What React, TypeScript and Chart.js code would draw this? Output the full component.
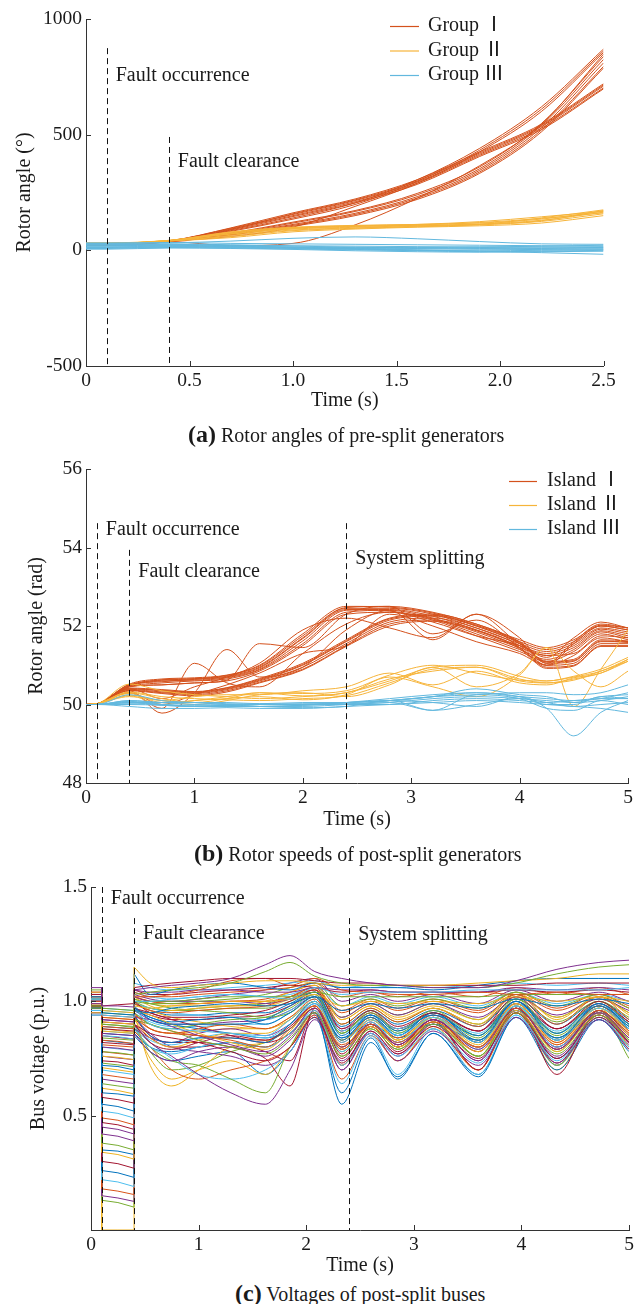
import React, { useEffect, useRef } from "react";
import { Chart, registerables } from "chart.js";
Chart.register(...registerables);

const FONT = '"Liberation Serif", "Noto Sans CJK SC", serif';
const INK = "#1a1a1a";

// ---------- (a) Rotor angles of pre-split generators ----------
const timesA = [0, 0.1, 0.4, 0.7, 1.0, 1.3, 1.6, 1.9, 2.2, 2.5];
const groupI = [
  [28, 28, 40, 95, 155, 215, 295, 415, 535, 710],
  [26, 26, 40, 92, 150, 210, 290, 410, 528, 702],
  [24, 24, 39, 90, 158, 218, 300, 420, 540, 715],
  [30, 30, 41, 97, 162, 222, 305, 425, 545, 720],
  [22, 22, 38, 88, 146, 205, 285, 405, 522, 698],
  [25, 25, 39, 70, 112, 160, 232, 345, 530, 810],
  [27, 27, 40, 72, 118, 168, 240, 352, 540, 825],
  [23, 23, 38, 68, 108, 155, 226, 338, 520, 795],
  [29, 29, 41, 75, 122, 172, 246, 360, 548, 838],
  [21, 21, 37, 66, 104, 150, 220, 332, 512, 788],
  [26, 26, 40, 85, 140, 205, 305, 440, 620, 870],
  [24, 24, 39, 82, 135, 198, 298, 432, 610, 862],
  [25, 25, 38, 20, 30, 110, 225, 365, 545, 848],
  [27, 27, 40, 60, 100, 190, 290, 425, 600, 855],
];
const groupII = [
  [30, 30, 42, 80, 100, 108, 112, 118, 135, 170],
  [28, 28, 41, 75, 96, 104, 108, 114, 130, 165],
  [32, 32, 43, 70, 92, 100, 106, 112, 128, 172],
  [26, 26, 40, 65, 88, 97, 104, 112, 140, 175],
  [29, 29, 42, 60, 85, 95, 102, 110, 125, 158],
  [31, 31, 43, 78, 98, 106, 112, 124, 145, 168],
  [27, 27, 40, 55, 80, 92, 100, 106, 118, 150],
  [30, 30, 42, 72, 94, 103, 110, 120, 138, 162],
];
const groupIII = [
  [32, 32, 34, 30, 28, 26, 24, 22, 20, 18],
  [30, 30, 32, 40, 52, 58, 50, 38, 28, 26],
  [28, 28, 28, 24, 20, 18, 16, 15, 14, 12],
  [25, 25, 26, 22, 18, 14, 10, 8, 6, 5],
  [22, 22, 24, 20, 14, 8, 2, -4, -10, -17],
  [20, 20, 22, 18, 12, 6, 0, -2, 0, 2],
  [18, 18, 20, 16, 14, 12, 12, 14, 18, 22],
  [15, 15, 18, 16, 12, 8, 6, 6, 8, 10],
  [12, 12, 16, 14, 10, 4, -2, -6, -4, 0],
  [10, 10, 14, 12, 8, 6, 8, 12, 14, 15],
  [8, 8, 12, 10, 6, 2, 0, 2, 4, 6],
  [5, 5, 10, 8, 4, -2, -6, -8, -6, -4],
];
const xTicksA = [0, 0.5, 1.0, 1.5, 2.0, 2.5];
const yTicksA = [-500, 0, 500, 1000];
const legendA = ["Group Ⅰ", "Group Ⅱ", "Group Ⅲ"];
const eventTimesA = [0.1, 0.4];
const eventLabelsA = ["Fault occurrence", "Fault clearance"];

// ---------- (b) Rotor speeds of post-split generators ----------
const timesB = [0, 0.1, 0.4, 0.7, 1.0, 1.3, 1.6, 2.0, 2.4, 2.8, 3.2, 3.6, 4.0, 4.25, 4.5, 4.75, 5.0];
const islandI = [
  [50, 50.02, 50.5, 50.62, 50.65, 50.72, 50.95, 51.7, 52.45, 52.45, 52.3, 51.95, 51.55, 51.35, 51.55, 51.95, 51.85],
  [50, 50.02, 50.47, 50.6, 50.62, 50.68, 50.9, 51.62, 52.4, 52.42, 52.25, 51.9, 51.5, 51.3, 51.5, 51.92, 51.8],
  [50, 50.02, 50.52, 50.65, 50.68, 50.75, 51.0, 51.8, 52.5, 52.48, 52.33, 52.0, 51.6, 51.4, 51.6, 52.0, 51.9],
  [50, 50.02, 50.45, 50.55, 50.6, 50.65, 50.88, 51.55, 52.35, 52.4, 52.2, 51.85, 51.45, 51.25, 51.45, 51.88, 51.75],
  [50, 50.02, 50.5, 50.58, 50.64, 50.7, 50.93, 51.68, 52.42, 52.38, 52.18, 51.8, 51.4, 51.15, 51.4, 51.85, 51.7],
  [50, 50.02, 50.48, 50.63, 50.66, 50.74, 50.98, 51.75, 52.47, 52.5, 52.35, 52.05, 51.65, 51.45, 51.65, 52.02, 51.95],
  [50, 50.02, 50.46, 50.5, 50.55, 50.6, 50.85, 51.5, 52.3, 52.35, 52.15, 51.75, 51.35, 51.1, 51.35, 51.8, 51.65],
  [50, 50.02, 50.4, 50.35, 50.3, 50.4, 50.62, 51.0, 51.6, 52.15, 52.25, 52.0, 51.55, 51.05, 51.1, 51.6, 51.6],
  [50, 50.02, 50.38, 50.32, 50.28, 50.38, 50.6, 50.95, 51.55, 52.1, 52.2, 51.95, 51.5, 51.0, 51.05, 51.55, 51.55],
  [50, 50.02, 50.42, 50.38, 50.33, 50.43, 50.66, 51.05, 51.65, 52.2, 52.3, 52.05, 51.6, 51.1, 51.15, 51.65, 51.62],
  [50, 50.02, 50.36, 50.3, 50.25, 50.35, 50.57, 50.9, 51.5, 52.05, 52.15, 51.9, 51.45, 50.95, 51.0, 51.5, 51.5],
  [50, 50.02, 50.4, 50.36, 50.32, 50.42, 50.64, 51.02, 51.62, 52.18, 52.27, 52.02, 51.58, 51.08, 51.12, 51.62, 51.58],
  [50, 50.02, 50.35, 50.28, 50.22, 50.32, 50.55, 50.88, 51.48, 52.0, 52.12, 51.88, 51.42, 50.92, 50.98, 51.48, 51.48],
  [50, 50.02, 50.35, 49.78, 50.3, 51.4, 50.7, 50.95, 51.9, 52.4, 51.65, 52.3, 51.7, 51.05, 51.6, 52.05, 51.95],
  [50, 50.02, 50.3, 49.9, 51.05, 50.55, 50.45, 51.3, 52.05, 52.35, 52.1, 51.75, 51.5, 51.2, 51.7, 52.1, 51.95],
  [50, 50.02, 50.4, 50.15, 50.45, 50.7, 51.05, 51.9, 52.2, 51.95, 51.7, 52.3, 51.55, 51.25, 51.3, 51.75, 51.7],
  [50, 50.02, 50.45, 50.5, 50.55, 50.62, 51.55, 51.45, 52.3, 52.5, 51.8, 52.15, 51.45, 51.0, 51.55, 52.0, 51.9],
  [50, 50.02, 50.3, 50.0, 50.25, 50.5, 50.8, 51.3, 51.5, 52.3, 52.0, 51.6, 51.3, 51.0, 51.25, 51.7, 51.6],
];
const islandII = [
  [50, 50.02, 50.52, 50.35, 50.25, 50.2, 50.15, 50.2, 50.3, 50.6, 50.95, 51.0, 50.72, 50.6, 50.7, 50.85, 51.15],
  [50, 50.02, 50.32, 50.2, 50.15, 50.12, 50.1, 50.15, 50.22, 50.55, 50.9, 50.95, 50.65, 50.55, 50.65, 50.8, 51.1],
  [50, 50.02, 50.28, 50.05, 50.1, 50.2, 50.3, 50.28, 50.35, 50.75, 51.0, 50.8, 50.62, 50.6, 50.72, 50.9, 51.2],
  [50, 50.02, 50.22, 50.0, 50.1, 50.15, 50.2, 50.12, 50.25, 50.7, 50.45, 50.2, 50.75, 51.45, 49.95, 50.9, 51.9],
  [50, 50.02, 50.2, 50.1, 50.0, 50.1, 50.25, 50.3, 50.2, 50.5, 50.95, 50.45, 50.8, 51.45, 50.85, 50.45, 50.85],
  [50, 50.02, 50.3, 50.15, 50.05, 50.15, 50.3, 50.22, 50.3, 50.65, 50.85, 50.95, 50.6, 50.55, 50.62, 50.85, 51.1],
  [50, 50.02, 50.24, 50.1, 50.2, 50.25, 50.25, 50.35, 50.45, 50.8, 50.5, 50.85, 50.55, 50.5, 50.68, 50.8, 51.15],
];
const islandIII = [
  [50, 50, 50.05, 50.0, 49.95, 49.95, 49.95, 49.95, 50.0, 50.05, 50.15, 50.2, 50.15, 50.1, 50.05, 50.1, 50.2],
  [50, 50, 50.1, 50.05, 50.0, 49.98, 49.95, 49.98, 50.05, 50.15, 50.25, 50.3, 50.2, 50.15, 50.1, 50.15, 50.3],
  [50, 50, 50.25, 50.1, 50.05, 50.0, 49.95, 49.92, 49.95, 50.1, 50.05, 49.95, 50.2, 49.9, 49.2, 49.8, 50.1],
  [50, 50, 49.95, 49.9, 49.9, 49.92, 49.9, 49.9, 49.95, 50.0, 50.05, 50.1, 50.05, 50.0, 49.95, 49.9, 49.8],
  [50, 50, 50.02, 50.0, 49.98, 50.0, 50.02, 50.0, 50.05, 50.1, 50.2, 50.25, 50.3, 50.3, 50.25, 50.3, 50.5],
  [50, 50, 50.05, 50.05, 50.05, 50.02, 50.0, 50.0, 50.0, 50.1, 50.2, 50.3, 50.2, 50.0, 50.0, 50.2, 50.15],
  [50, 50, 50.08, 50.0, 49.95, 49.98, 50.0, 50.0, 50.05, 50.1, 49.85, 50.25, 50.15, 49.9, 49.85, 50.1, 50.0],
  [50, 50, 50.0, 49.98, 49.95, 49.95, 49.95, 49.98, 50.0, 50.0, 50.1, 50.15, 50.1, 50.05, 50.1, 50.15, 50.15],
  [50, 50, 50.1, 50.05, 50.05, 50.05, 50.02, 50.05, 50.05, 50.1, 50.2, 50.4, 50.25, 50.2, 50.05, 50.2, 50.25],
  [50, 50, 50.05, 49.98, 49.95, 49.98, 50.0, 50.02, 50.02, 50.05, 49.85, 50.0, 50.15, 50.05, 49.95, 50.0, 50.05],
];
const xTicksB = [0, 1, 2, 3, 4, 5];
const yTicksB = [48, 50, 52, 54, 56];
const legendB = ["Island Ⅰ", "Island Ⅱ", "Island Ⅲ"];
const eventTimesB = [0.1, 0.4, 2.4];
const eventLabelsB = ["Fault occurrence", "Fault clearance", "System splitting"];

// ---------- (c) Voltages of post-split buses ----------
// columns: pre-fault (t=0, 0.1), faulted (0.1, 0.25, 0.4), post-clearance (0.4 ... 5.0)
const busTimes = [0, 0.1, 0.1, 0.25, 0.4, 0.4, 0.55, 0.75, 1.0, 1.3, 1.62, 1.85, 2.08, 2.33, 2.6, 2.85, 3.18, 3.6, 3.95, 4.33, 4.72, 5.0];
const busVoltages = [
  [1.06, 1.06, 0.98, 0.98, 0.975, 1.05, 1.06, 1.07, 1.08, 1.1, 1.16, 1.2, 1.13, 1.1, 1.08, 1.07, 1.06, 1.06, 1.09, 1.14, 1.17, 1.18],
  [1.05, 1.05, 0.97, 0.965, 0.96, 1.03, 1.04, 1.05, 1.06, 1.08, 1.13, 1.17, 1.11, 1.08, 1.07, 1.07, 1.06, 1.06, 1.08, 1.12, 1.15, 1.16],
  [1.04, 1.04, 0.96, 0.955, 0.95, 1.15, 1.08, 1.06, 1.07, 1.08, 1.09, 1.09, 1.08, 1.07, 1.07, 1.07, 1.07, 1.08, 1.09, 1.1, 1.12, 1.12],
  [1.03, 1.03, 0.98, 0.985, 0.99, 1.06, 1.07, 1.08, 1.09, 1.1, 1.1, 1.1, 1.09, 1.08, 1.08, 1.07, 1.07, 1.07, 1.07, 1.08, 1.08, 1.08],
  [1.02, 1.02, 0.95, 0.945, 0.94, 1.12, 1.03, 1.05, 1.07, 1.08, 1.06, 1.05, 1.08, 1.06, 1.06, 1.06, 1.05, 1.07, 1.09, 1.1, 1.1, 1.1],
  [1.01, 1.01, 0.94, 0.935, 0.93, 1.0, 1.0, 1.01, 1.02, 1.03, 1.02, 1.01, 1.06, 1.03, 1.04, 1.04, 1.04, 1.05, 1.05, 1.05, 1.05, 1.06],
  [1.0, 1.0, 0.93, 0.925, 0.92, 1.02, 1.02, 1.03, 1.05, 1.09, 1.1, 1.07, 1.1, 1.05, 1.04, 1.03, 1.03, 1.04, 1.03, 1.04, 1.03, 1.03],
  [0.99, 0.99, 0.92, 0.915, 0.91, 1.05, 1.04, 1.04, 1.05, 1.05, 1.04, 1.04, 1.06, 1.05, 1.05, 1.04, 1.04, 1.04, 1.06, 1.05, 1.06, 1.05],
  [0.97, 0.97, 0.9, 0.895, 0.89, 1.0, 1.0, 1.0, 1.01, 1.02, 1.02, 1.02, 1.04, 1.02, 1.02, 1.02, 1.02, 1.02, 1.03, 1.03, 1.03, 1.03],
  [0.95, 0.95, 0.87, 0.865, 0.86, 0.98, 0.97, 0.98, 0.99, 1.0, 1.0, 1.01, 1.03, 0.98, 1.0, 0.99, 1.0, 0.99, 1.02, 1.0, 1.02, 1.0],
  [1.04, 1.04, 0.82, 0.815, 0.81, 1.05, 1.03, 1.03, 1.04, 1.05, 1.06, 1.07, 1.06, 1.04, 1.05, 1.04, 1.04, 1.04, 1.05, 1.04, 1.05, 1.04],
  [0.94, 0.94, 0.6, 0.595, 0.585, 0.96, 0.95, 0.97, 0.98, 0.99, 0.98, 0.99, 1.02, 0.96, 0.99, 0.97, 0.99, 0.97, 1.01, 0.98, 1.01, 0.99],
  [1.03, 1.03, 0.96, 0.955, 0.95, 1.08, 1.06, 1.05, 1.05, 1.06, 1.07, 1.08, 1.09, 1.06, 1.07, 1.06, 1.07, 1.06, 1.08, 1.07, 1.08, 1.07],
  [1.02, 1.02, 0.89, 0.885, 0.88, 1.04, 1.02, 1.02, 1.03, 1.04, 1.05, 1.06, 1.08, 1.02, 1.04, 1.02, 1.04, 1.02, 1.06, 1.03, 1.06, 1.03],
  [1.0, 1.0, 0.86, 0.855, 0.85, 1.02, 1.0, 1.0, 1.01, 1.03, 1.05, 1.08, 1.1, 1.0, 1.03, 1.0, 1.03, 0.99, 1.05, 1.0, 1.04, 1.0],
  [0.98, 0.98, 0.84, 0.835, 0.83, 1.0, 0.99, 0.99, 1.0, 1.01, 1.03, 1.06, 1.08, 0.98, 1.01, 0.98, 1.01, 0.97, 1.04, 0.98, 1.03, 0.97],
  [0.99, 0.99, 0.91, 0.905, 0.9, 1.02, 0.98, 0.96, 0.97, 0.98, 1.0, 1.04, 1.07, 0.92, 0.98, 0.92, 0.97, 0.9, 1.04, 0.92, 1.02, 0.94],
  [0.98, 0.98, 0.88, 0.875, 0.87, 1.0, 0.95, 0.93, 0.93, 0.94, 0.96, 1.0, 1.05, 0.88, 0.96, 0.89, 0.95, 0.87, 1.02, 0.88, 1.0, 0.91],
  [0.97, 0.97, 0.86, 0.855, 0.85, 0.98, 0.92, 0.9, 0.9, 0.9, 0.92, 0.98, 1.04, 0.85, 0.94, 0.87, 0.94, 0.85, 1.0, 0.86, 0.99, 0.9],
  [1.01, 1.01, 0.85, 0.845, 0.835, 0.97, 0.9, 0.88, 0.87, 0.86, 0.85, 0.92, 1.0, 0.82, 0.92, 0.85, 0.93, 0.82, 0.98, 0.83, 0.97, 0.88],
  [0.99, 0.99, 0.83, 0.825, 0.815, 0.95, 0.88, 0.86, 0.85, 0.83, 0.8, 0.88, 0.98, 0.79, 0.9, 0.82, 0.91, 0.8, 0.97, 0.81, 0.96, 0.86],
  [1.0, 1.0, 0.8, 0.795, 0.785, 0.93, 0.92, 0.89, 0.85, 0.81, 0.78, 0.85, 0.97, 0.8, 0.9, 0.81, 0.92, 0.79, 0.97, 0.79, 0.95, 0.84],
  [0.98, 0.98, 0.78, 0.775, 0.765, 0.92, 0.9, 0.87, 0.83, 0.8, 0.77, 0.84, 0.95, 0.76, 0.88, 0.79, 0.9, 0.76, 0.95, 0.77, 0.94, 0.83],
  [1.02, 1.02, 0.76, 0.755, 0.745, 0.96, 0.94, 0.9, 0.86, 0.82, 0.79, 0.87, 0.98, 0.79, 0.89, 0.8, 0.91, 0.78, 0.96, 0.78, 0.95, 0.85],
  [0.97, 0.97, 0.74, 0.735, 0.72, 0.9, 0.86, 0.84, 0.82, 0.78, 0.74, 0.8, 0.93, 0.73, 0.87, 0.77, 0.89, 0.75, 0.95, 0.75, 0.93, 0.82],
  [1.0, 1.0, 0.72, 0.715, 0.7, 0.94, 0.85, 0.82, 0.84, 0.84, 0.82, 0.9, 1.0, 0.84, 0.93, 0.85, 0.95, 0.83, 1.0, 0.84, 0.98, 0.89],
  [0.96, 0.96, 0.7, 0.69, 0.68, 0.88, 0.8, 0.77, 0.8, 0.82, 0.8, 0.86, 0.96, 0.72, 0.86, 0.76, 0.88, 0.73, 0.94, 0.74, 0.93, 0.8],
  [1.03, 1.03, 0.68, 0.67, 0.66, 0.99, 0.96, 0.95, 0.96, 0.97, 0.98, 1.02, 1.06, 0.9, 0.97, 0.91, 0.97, 0.89, 1.03, 0.9, 1.02, 0.92],
  [0.95, 0.95, 0.66, 0.65, 0.64, 0.86, 0.78, 0.74, 0.78, 0.8, 0.76, 0.83, 0.95, 0.7, 0.86, 0.74, 0.87, 0.72, 0.93, 0.73, 0.92, 0.79],
  [1.01, 1.01, 0.64, 0.63, 0.62, 0.95, 0.9, 0.88, 0.9, 0.92, 0.93, 0.97, 1.03, 0.86, 0.96, 0.87, 0.96, 0.85, 1.01, 0.86, 1.0, 0.9],
  [0.99, 0.99, 0.62, 0.61, 0.595, 0.92, 0.84, 0.8, 0.83, 0.86, 0.86, 0.92, 1.0, 0.8, 0.92, 0.83, 0.93, 0.8, 0.99, 0.81, 0.97, 0.86],
  [0.98, 0.98, 0.58, 0.57, 0.555, 0.9, 0.82, 0.79, 0.82, 0.85, 0.83, 0.89, 0.98, 0.77, 0.9, 0.81, 0.92, 0.78, 0.97, 0.79, 0.96, 0.85],
  [1.02, 1.02, 0.55, 0.54, 0.52, 0.97, 0.93, 0.91, 0.92, 0.93, 0.9, 0.95, 1.02, 0.83, 0.94, 0.85, 0.95, 0.82, 1.0, 0.83, 0.99, 0.88],
  [0.97, 0.97, 0.52, 0.51, 0.49, 0.89, 0.83, 0.81, 0.84, 0.86, 0.84, 0.9, 0.99, 0.78, 0.91, 0.82, 0.93, 0.79, 0.98, 0.8, 0.96, 0.85],
  [1.0, 1.0, 0.49, 0.48, 0.46, 0.93, 0.88, 0.86, 0.88, 0.9, 0.88, 0.93, 1.01, 0.82, 0.93, 0.84, 0.94, 0.82, 0.99, 0.82, 0.98, 0.87],
  [0.96, 0.96, 0.45, 0.44, 0.42, 0.88, 0.84, 0.82, 0.86, 0.88, 0.85, 0.9, 0.98, 0.79, 0.9, 0.82, 0.92, 0.8, 0.97, 0.8, 0.95, 0.84],
  [0.99, 0.99, 0.95, 0.945, 0.94, 1.01, 0.99, 0.97, 0.96, 0.95, 0.93, 0.95, 1.02, 0.86, 0.95, 0.86, 0.95, 0.84, 1.0, 0.85, 0.98, 0.89],
  [0.98, 0.98, 0.93, 0.925, 0.92, 0.99, 0.96, 0.93, 0.91, 0.89, 0.88, 0.92, 1.0, 0.83, 0.93, 0.83, 0.93, 0.82, 0.98, 0.83, 0.97, 0.87],
  [1.01, 1.01, 0.91, 0.905, 0.9, 0.97, 0.95, 0.92, 0.89, 0.85, 0.82, 0.86, 0.97, 0.8, 0.91, 0.81, 0.92, 0.8, 0.97, 0.8, 0.96, 0.85],
  [0.97, 0.97, 0.89, 0.885, 0.88, 0.96, 0.93, 0.9, 0.88, 0.86, 0.84, 0.88, 0.99, 0.84, 0.9, 0.84, 0.9, 0.83, 0.96, 0.84, 0.95, 0.88],
  [1.0, 1.0, 0.87, 0.865, 0.86, 0.99, 0.97, 0.95, 0.94, 0.93, 0.92, 0.96, 1.03, 0.87, 0.94, 0.88, 0.94, 0.86, 0.99, 0.87, 0.98, 0.9],
  [0.96, 0.96, 0.81, 0.805, 0.8, 0.94, 0.9, 0.87, 0.85, 0.84, 0.83, 0.88, 0.97, 0.81, 0.89, 0.8, 0.9, 0.78, 0.95, 0.79, 0.94, 0.84],
  [0.98, 0.98, 0.42, 0.41, 0.39, 0.9, 0.82, 0.76, 0.68, 0.6, 0.55, 0.7, 0.92, 0.74, 0.86, 0.76, 0.9, 0.74, 0.96, 0.76, 0.94, 0.82],
  [0.97, 0.97, 0.38, 0.37, 0.35, 0.88, 0.8, 0.74, 0.72, 0.66, 0.6, 0.8, 0.95, 0.76, 0.88, 0.79, 0.91, 0.76, 0.97, 0.72, 0.95, 0.83],
  [1.0, 1.0, 0.34, 0.33, 0.31, 0.95, 0.72, 0.63, 0.7, 0.8, 0.82, 0.9, 1.0, 0.8, 0.92, 0.83, 0.93, 0.81, 0.99, 0.82, 0.97, 0.8],
  [0.99, 0.99, 0.3, 0.29, 0.27, 0.93, 0.85, 0.82, 0.82, 0.8, 0.75, 0.63, 0.97, 0.75, 0.89, 0.8, 0.92, 0.7, 0.98, 0.68, 0.96, 0.82],
  [0.96, 0.96, 0.26, 0.25, 0.23, 0.86, 0.8, 0.78, 0.8, 0.82, 0.8, 0.86, 0.95, 0.55, 0.82, 0.67, 0.86, 0.67, 0.93, 0.7, 0.92, 0.78],
  [0.98, 0.98, 0.22, 0.21, 0.19, 0.88, 0.82, 0.75, 0.68, 0.66, 0.7, 0.78, 0.93, 0.64, 0.85, 0.68, 0.88, 0.68, 0.94, 0.72, 0.93, 0.8],
  [0.97, 0.97, 0.18, 0.17, 0.155, 0.87, 0.8, 0.7, 0.66, 0.7, 0.74, 0.8, 0.94, 0.66, 0.85, 0.74, 0.88, 0.7, 0.95, 0.72, 0.93, 0.79],
  [1.0, 1.0, 0.15, 0.14, 0.125, 0.93, 0.86, 0.8, 0.78, 0.76, 0.72, 0.78, 0.94, 0.7, 0.87, 0.77, 0.9, 0.74, 0.96, 0.75, 0.94, 0.81],
  [0.98, 0.98, 0.13, 0.12, 0.1, 0.9, 0.78, 0.7, 0.72, 0.78, 0.82, 0.88, 0.97, 0.78, 0.9, 0.8, 0.93, 0.76, 0.98, 0.78, 0.96, 0.75],
  [0.99, 0.99, 0.0, 0.0, 0.0, 0.9, 0.75, 0.66, 0.7, 0.74, 0.68, 0.8, 0.95, 0.72, 0.86, 0.74, 0.89, 0.7, 0.95, 0.7, 0.94, 0.8],
  [0.97, 0.97, 0.47, 0.46, 0.44, 0.9, 0.84, 0.8, 0.8, 0.82, 0.78, 0.74, 0.96, 0.72, 0.89, 0.78, 0.91, 0.7, 0.97, 0.73, 0.95, 0.82],
  [0.95, 0.95, 0.35, 0.345, 0.33, 0.85, 0.78, 0.74, 0.76, 0.78, 0.68, 0.78, 0.93, 0.6, 0.84, 0.66, 0.86, 0.68, 0.93, 0.75, 0.92, 0.8],
  [1.0, 1.0, 0.97, 0.965, 0.96, 1.04, 1.02, 1.01, 1.02, 1.03, 1.02, 1.03, 1.06, 0.98, 1.02, 0.99, 1.02, 0.98, 1.04, 0.99, 1.03, 1.0],
  [0.99, 0.99, 0.94, 0.935, 0.93, 1.02, 1.0, 0.99, 0.99, 1.0, 1.0, 1.02, 1.05, 0.95, 1.0, 0.96, 1.0, 0.95, 1.03, 0.96, 1.02, 0.97],
  [1.02, 1.02, 0.92, 0.915, 0.91, 1.03, 1.01, 1.0, 1.0, 1.0, 0.99, 1.01, 1.04, 0.93, 0.99, 0.94, 0.99, 0.93, 1.02, 0.94, 1.01, 0.96],
  [0.98, 0.98, 0.9, 0.895, 0.885, 0.99, 0.97, 0.96, 0.96, 0.97, 0.97, 1.0, 1.04, 0.9, 0.97, 0.91, 0.97, 0.9, 1.01, 0.91, 1.0, 0.93],
  [1.01, 1.01, 0.88, 0.872, 0.865, 1.01, 0.99, 0.98, 0.98, 0.98, 0.98, 1.01, 1.05, 0.92, 0.98, 0.93, 0.98, 0.92, 1.02, 0.93, 1.01, 0.95],
  [0.97, 0.97, 0.85, 0.842, 0.835, 0.97, 0.94, 0.92, 0.92, 0.93, 0.94, 0.98, 1.03, 0.87, 0.95, 0.88, 0.95, 0.87, 1.0, 0.88, 0.99, 0.91],
  [1.0, 1.0, 0.83, 0.822, 0.815, 0.99, 0.96, 0.94, 0.94, 0.95, 0.95, 0.99, 1.04, 0.89, 0.96, 0.9, 0.96, 0.89, 1.01, 0.9, 1.0, 0.92],
  [0.96, 0.96, 0.8, 0.792, 0.785, 0.95, 0.91, 0.89, 0.89, 0.9, 0.9, 0.95, 1.01, 0.86, 0.93, 0.86, 0.93, 0.85, 0.99, 0.86, 0.97, 0.89],
  [1.03, 1.03, 0.78, 0.772, 0.765, 1.02, 1.0, 0.99, 0.99, 1.0, 1.01, 1.04, 1.07, 0.96, 1.01, 0.97, 1.01, 0.96, 1.04, 0.97, 1.03, 0.98],
  [0.98, 0.98, 0.76, 0.752, 0.745, 0.96, 0.92, 0.9, 0.9, 0.91, 0.92, 0.96, 1.02, 0.88, 0.94, 0.88, 0.94, 0.87, 0.99, 0.88, 0.98, 0.9],
  [1.01, 1.01, 0.73, 0.722, 0.714, 1.0, 0.97, 0.96, 0.97, 0.98, 0.99, 1.02, 1.06, 0.93, 0.99, 0.94, 0.99, 0.92, 1.03, 0.93, 1.02, 0.95],
  [0.97, 0.97, 0.71, 0.7, 0.69, 0.93, 0.88, 0.86, 0.87, 0.88, 0.88, 0.93, 1.0, 0.83, 0.92, 0.84, 0.93, 0.83, 0.98, 0.84, 0.97, 0.88],
];
const xTicksC = [0, 1, 2, 3, 4, 5];
const yTicksC = [0, 0.5, 1.0, 1.5];
const eventTimesC = [0.1, 0.4, 2.4];
const eventLabelsC = ["Fault occurrence", "Fault clearance", "System splitting"];

// ---------- styles ----------
const RED = "#d4511c";
const ORANGE = "#f6b43a";
const BLUE = "#62b8de";
const PALETTE_C = ["#7e2f8e", "#77ac30", "#edb120", "#a2142f", "#0072bd", "#4dbeee", "#d95319"];

const decorPlugin = {
  id: "decor",
  afterDatasetsDraw(chart: any, _args: any, opts: any) {
    const { ctx, chartArea, scales } = chart;
    const xs = scales.x;
    const ys = scales.y;
    ctx.save();
    ctx.strokeStyle = "#333";
    ctx.lineWidth = 1;
    ctx.setLineDash([]);
    xs.ticks.forEach((t: any) => {
      const px = Math.round(xs.getPixelForValue(t.value)) + 0.5;
      ctx.beginPath();
      ctx.moveTo(px, chartArea.bottom);
      ctx.lineTo(px, chartArea.bottom - 5);
      ctx.stroke();
    });
    ys.ticks.forEach((t: any) => {
      if (t.label === "") return;
      const py = Math.round(ys.getPixelForValue(t.value)) + 0.5;
      ctx.beginPath();
      ctx.moveTo(chartArea.left, py);
      ctx.lineTo(chartArea.left + 5, py);
      ctx.stroke();
    });
    // event markers
    ctx.strokeStyle = "#111";
    ctx.setLineDash([6, 4]);
    (opts.events || []).forEach((ev: any) => {
      const px = Math.round(xs.getPixelForValue(ev.x)) + 0.5;
      ctx.beginPath();
      ctx.moveTo(px, ys.getPixelForValue(ev.top));
      ctx.lineTo(px, chartArea.bottom);
      ctx.stroke();
    });
    ctx.setLineDash([]);
    ctx.font = `20px ${FONT}`;
    ctx.fillStyle = INK;
    ctx.textBaseline = "middle";
    ctx.textAlign = "left";
    (opts.events || []).forEach((ev: any) => {
      ctx.fillText(ev.label, xs.getPixelForValue(ev.x) + 9, ys.getPixelForValue(ev.ly));
    });
    // legend
    const lg = opts.legend;
    if (lg) {
      lg.items.forEach((it: any, i: number) => {
        const y = lg.y0 + i * lg.dy;
        ctx.strokeStyle = it.color;
        ctx.lineWidth = 1.2;
        ctx.beginPath();
        ctx.moveTo(lg.x1, y + 0.5);
        ctx.lineTo(lg.x2, y + 0.5);
        ctx.stroke();
        ctx.fillStyle = INK;
        ctx.fillText(it.label, lg.tx, y);
      });
    }
    ctx.restore();
  },
};

function seriesFrom(times: number[], rows: number[][], color: string) {
  return rows.map((row) => ({
    data: times.map((t, k) => ({ x: t, y: row[k] })),
    borderColor: color,
    borderWidth: 1,
    pointRadius: 0,
    cubicInterpolationMode: "monotone",
  }));
}

function axes(opt: any) {
  const font = { family: FONT, size: 20 };
  const tickFont = { family: FONT, size: 19.5 };
  return {
    x: {
      type: "linear",
      min: opt.xMin,
      max: opt.xMax,
      grid: { display: false, drawTicks: false },
      border: { display: true, color: "#333", width: 1 },
      afterBuildTicks: (s: any) => { s.ticks = opt.xTicks.map((v: number) => ({ value: v })); },
      ticks: { padding: 3, color: INK, font: tickFont, callback: opt.xFmt, maxRotation: 0, autoSkip: false },
      title: { display: true, text: "Time (s)", color: INK, font, padding: { top: 0, bottom: 0 } },
      afterFit: (s: any) => { s.height = opt.xH; },
    },
    y: {
      type: "linear",
      min: opt.yMin,
      max: opt.yMax,
      grid: { display: false, drawTicks: false },
      border: { display: true, color: "#333", width: 1 },
      afterBuildTicks: (s: any) => { s.ticks = opt.yTicks.map((v: number) => ({ value: v })); },
      ticks: { padding: 4, color: INK, font: tickFont, callback: opt.yFmt, autoSkip: false },
      title: { display: true, text: opt.yTitle, color: INK, font, padding: { top: opt.yTitlePad, bottom: 0 } },
      afterFit: (s: any) => { s.width = opt.yW; },
    },
  };
}

function baseOptions(padding: any, decor: any, scales: any) {
  return {
    animation: false,
    responsive: false,
    maintainAspectRatio: false,
    layout: { padding },
    plugins: { legend: { display: false }, tooltip: { enabled: false }, decor },
    scales,
  };
}

function makeConfigA() {
  const datasets = [
    ...seriesFrom(timesA, groupIII, BLUE),
    ...seriesFrom(timesA, groupII, ORANGE),
    ...seriesFrom(timesA, groupI, RED),
  ];
  const evTop = [874, 490];
  const evLy = [754, 382];
  return {
    type: "line",
    data: { datasets },
    options: baseOptions(
      { left: 0, top: 19, right: 39.5, bottom: 7 },
      {
        events: eventTimesA.map((x, i) => ({ x, top: evTop[i], ly: evLy[i], label: eventLabelsA[i] })),
        legend: {
          items: legendA.map((label, i) => ({ label, color: [RED, ORANGE, BLUE][i] })),
          x1: 390, x2: 419, tx: 428, y0: 26, dy: 24.5,
        },
      },
      axes({
        xMin: 0, xMax: 2.5, xTicks: xTicksA, yMin: -500, yMax: 1000, yTicks: yTicksA,
        xFmt: (v: number) => (v === 0 ? "0" : Number(v).toFixed(1)),
        yFmt: (v: number) => String(v),
        xH: 47, yW: 86, yTitle: "Rotor angle (°)", yTitlePad: 13,
      })
    ),
    plugins: [decorPlugin],
  };
}

function makeConfigB() {
  const datasets = [
    ...seriesFrom(timesB, islandIII, BLUE),
    ...seriesFrom(timesB, islandII, ORANGE),
    ...seriesFrom(timesB, islandI, RED),
  ];
  const evTop = [54.62, 53.94, 54.62];
  const evLy = [54.45, 53.38, 53.71];
  return {
    type: "line",
    data: { datasets },
    options: baseOptions(
      { left: 0, top: 29, right: 15, bottom: 18 },
      {
        events: eventTimesB.map((x, i) => ({ x, top: evTop[i], ly: evLy[i], label: eventLabelsB[i] })),
        legend: {
          items: legendB.map((label, i) => ({ label, color: [RED, ORANGE, BLUE][i] })),
          x1: 509, x2: 537, tx: 547, y0: 41, dy: 24,
        },
      },
      axes({
        xMin: 0, xMax: 5, xTicks: xTicksB, yMin: 48, yMax: 56, yTicks: yTicksB,
        xFmt: (v: number) => String(v),
        yFmt: (v: number) => String(v),
        xH: 49, yW: 86, yTitle: "Rotor angle (rad)", yTitlePad: 24.5,
      })
    ),
    plugins: [decorPlugin],
  };
}

function makeConfigC() {
  const datasets: any[] = [];
  busVoltages.forEach((row, i) => {
    const color = PALETTE_C[i % PALETTE_C.length];
    datasets.push({
      data: busTimes.slice(0, 6).map((t, k) => ({ x: t, y: row[k] })),
      borderColor: color, borderWidth: 1, pointRadius: 0, tension: 0,
    });
    datasets.push({
      data: busTimes.slice(5).map((t, k) => ({ x: t, y: row[k + 5] })),
      borderColor: color, borderWidth: 1, pointRadius: 0, cubicInterpolationMode: "monotone",
    });
  });
  const evTop = [1.5, 1.364, 1.364];
  const evLy = [1.447, 1.294, 1.29];
  return {
    type: "line",
    data: { datasets },
    options: baseOptions(
      { left: 0, top: 27, right: 14, bottom: 2 },
      { events: eventTimesC.map((x, i) => ({ x, top: evTop[i], ly: evLy[i], label: eventLabelsC[i] })) },
      axes({
        xMin: 0, xMax: 5, xTicks: xTicksC, yMin: 0, yMax: 1.5, yTicks: yTicksC,
        xFmt: (v: number) => String(v),
        yFmt: (v: number) => (v === 0 ? "" : Number(v).toFixed(1)),
        xH: 48, yW: 91, yTitle: "Bus voltage (p.u.)", yTitlePad: 27,
      })
    ),
    plugins: [decorPlugin],
  };
}

function ChartCanvas({ make, top, height }: { make: () => any; top: number; height: number }) {
  const ref = useRef<HTMLCanvasElement | null>(null);
  useEffect(() => {
    const chart = new Chart(ref.current as HTMLCanvasElement, make());
    return () => chart.destroy();
  }, []);
  return (
    <canvas
      ref={ref}
      width={643}
      height={height}
      style={{ position: "absolute", left: 0, top, width: 643, height, display: "block" }}
    />
  );
}

function Caption({ tag, text, left, top }: { tag: string; text: string; left: number; top: number }) {
  return (
    <div
      style={{
        position: "absolute",
        left,
        top,
        whiteSpace: "nowrap",
        fontFamily: FONT,
        fontSize: 20,
        lineHeight: "26px",
        color: INK,
      }}
    >
      <b style={{ fontSize: 24 }}>{tag}</b> {text}
    </div>
  );
}

export default function App() {
  return (
    <div style={{ position: "absolute", left: 0, top: 0, width: 643, height: 1304, background: "#fff" }}>
      <ChartCanvas make={makeConfigA} top={0} height={420} />
      <ChartCanvas make={makeConfigB} top={440} height={410} />
      <ChartCanvas make={makeConfigC} top={860} height={420} />
      <Caption tag="(a)" text="Rotor angles of pre-split generators" left={188} top={421} />
      <Caption tag="(b)" text="Rotor speeds of post-split generators" left={194} top={840} />
      <Caption tag="(c)" text="Voltages of post-split buses" left={235} top={1280} />
    </div>
  );
}
